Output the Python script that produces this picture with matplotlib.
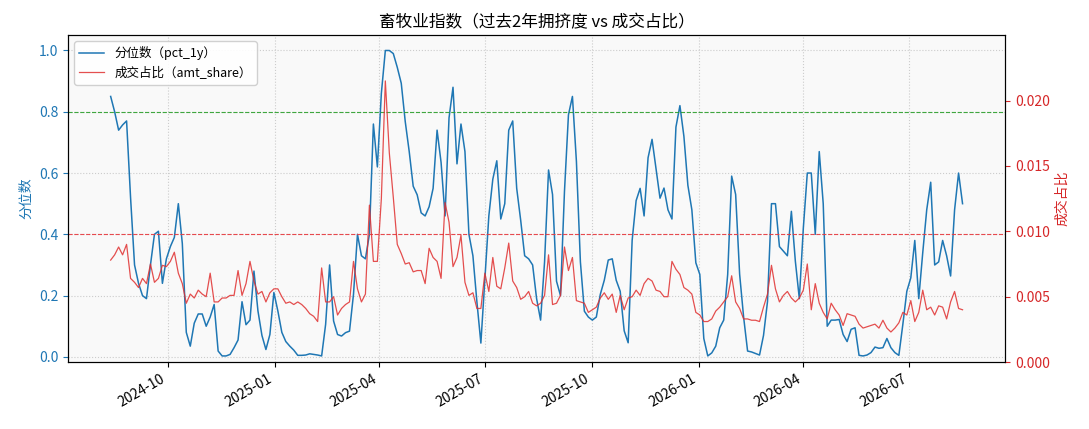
import matplotlib
matplotlib.use("Agg")
import matplotlib.pyplot as plt
import matplotlib.dates as mdates
import pandas as pd

plt.rcParams['font.family'] = ['Noto Sans CJK SC', 'DejaVu Sans']
plt.rcParams['axes.unicode_minus'] = False

# 分位数 pct_1y (roughly every 2-3 trading days)
pct_1y = [
    0.85, 0.80, 0.74, 0.757, 0.77, 0.52, 0.30, 0.24, 0.20, 0.19, 0.30, 0.40, 0.41,
    0.24, 0.32, 0.36, 0.39, 0.50, 0.37, 0.08, 0.035, 0.11, 0.14, 0.14, 0.10, 0.13,
    0.171, 0.019, 0.003, 0.003, 0.008, 0.03, 0.055, 0.18, 0.105, 0.12, 0.28, 0.15, 0.07,
    0.024, 0.073, 0.21, 0.15, 0.08, 0.05, 0.035, 0.022, 0.005, 0.005, 0.006, 0.01, 0.008,
    0.006, 0.003,
    0.106, 0.30, 0.117, 0.073, 0.068, 0.079, 0.084, 0.204, 0.40, 0.33, 0.32, 0.40, 0.76,
    0.62, 0.86, 1.0, 1.0, 0.99, 0.945, 0.893, 0.768, 0.67, 0.557, 0.529, 0.47, 0.46,
    0.49, 0.55,
    0.74, 0.635, 0.46, 0.78, 0.88, 0.63, 0.76, 0.67, 0.40, 0.33, 0.18, 0.045, 0.25,
    0.46, 0.58, 0.64, 0.45, 0.50, 0.74, 0.77, 0.55, 0.446, 0.33, 0.32, 0.30, 0.19,
    0.12, 0.31,
    0.61, 0.53, 0.247, 0.20, 0.54, 0.79, 0.85, 0.638, 0.31, 0.149, 0.13, 0.12, 0.13,
    0.204, 0.25, 0.316, 0.32, 0.25, 0.214, 0.085, 0.046, 0.38, 0.51, 0.55, 0.46, 0.65,
    0.71, 0.615,
    0.518, 0.551, 0.48, 0.45, 0.75, 0.82, 0.72, 0.56, 0.48, 0.307, 0.269, 0.06, 0.003,
    0.013, 0.035, 0.095, 0.12, 0.269, 0.59, 0.53, 0.27, 0.13, 0.019, 0.016, 0.011,
    0.006, 0.07, 0.18,
    0.50, 0.50, 0.36, 0.345, 0.33, 0.475, 0.312, 0.19, 0.42, 0.60, 0.60, 0.40, 0.67,
    0.50, 0.10, 0.12, 0.12, 0.122, 0.073, 0.05, 0.09, 0.095, 0.005, 0.003, 0.006,
    0.014, 0.032, 0.028,
    0.03, 0.06, 0.03, 0.014, 0.005, 0.106, 0.214, 0.258, 0.38, 0.19, 0.34, 0.48, 0.57,
    0.30, 0.31, 0.38, 0.33, 0.264, 0.48, 0.60, 0.50,
]

# 成交占比 amt_share
amt_share = [
    0.0078, 0.0082, 0.0088, 0.0082, 0.0090, 0.0064, 0.0061, 0.0057, 0.0064, 0.0060,
    0.0075, 0.0061, 0.0064, 0.0074, 0.0073, 0.0077, 0.0084, 0.0068, 0.0060, 0.0045,
    0.0052, 0.0049, 0.0055, 0.0052, 0.0050, 0.0068,
    0.0046, 0.0046, 0.0049, 0.0049, 0.0051, 0.0051, 0.0070, 0.0051, 0.0060, 0.0077,
    0.0062, 0.0052, 0.0054, 0.0046, 0.0053, 0.0056, 0.0056, 0.0050, 0.0045, 0.0046,
    0.0044, 0.0046, 0.0044, 0.0041, 0.0037, 0.0035, 0.0031, 0.0072,
    0.0046, 0.0046, 0.0050, 0.0036, 0.0041, 0.0044, 0.0046, 0.0077, 0.0056, 0.0046,
    0.0052, 0.0120, 0.0077, 0.0077, 0.0125, 0.0215, 0.0160, 0.0126, 0.0090, 0.0083,
    0.0075, 0.0076, 0.0069, 0.0070, 0.0070, 0.0060, 0.0087, 0.0080,
    0.0077, 0.0064, 0.0122, 0.0107, 0.0073, 0.0080, 0.0097, 0.0061, 0.0051, 0.0053,
    0.0041, 0.0041, 0.0068, 0.0054, 0.0080, 0.0058, 0.0056, 0.0072, 0.0091, 0.0062,
    0.0057, 0.0048, 0.0050, 0.0054, 0.0045, 0.0043, 0.0045, 0.0051,
    0.0082, 0.0044, 0.0045, 0.0051, 0.0088, 0.0070, 0.0080, 0.0047, 0.0046, 0.0045,
    0.0038, 0.0040, 0.0042, 0.0049, 0.0053, 0.0048, 0.0052, 0.0038, 0.0051, 0.0040,
    0.0049, 0.0050, 0.0055, 0.0051, 0.0060, 0.0064, 0.0062, 0.0055,
    0.0054, 0.0050, 0.0050, 0.0077, 0.0071, 0.0067, 0.0057, 0.0055, 0.0052, 0.0038,
    0.0036, 0.0031, 0.0031, 0.0033, 0.0039, 0.0042, 0.0046, 0.0050, 0.0066, 0.0046,
    0.0041, 0.0033, 0.0033, 0.0032, 0.0032, 0.0031, 0.0042, 0.0052,
    0.0074, 0.0056, 0.0046, 0.0051, 0.0054, 0.0049, 0.0046, 0.0049, 0.0055, 0.0075,
    0.0040, 0.0060, 0.0045, 0.0038, 0.0033, 0.0045, 0.0040, 0.0036, 0.0028, 0.0037,
    0.0036, 0.0035, 0.0029, 0.0026, 0.0027, 0.0028, 0.0029, 0.0026,
    0.0032, 0.0026, 0.0023, 0.0026, 0.0030, 0.0038, 0.0036, 0.0047, 0.0031, 0.0038,
    0.0055, 0.0040, 0.0042, 0.0036, 0.0043, 0.0042, 0.0033, 0.0046, 0.0054, 0.0041,
    0.0040,
]

start_date = "2024-08-13"
end_date = "2026-08-16"
dates = pd.date_range(start_date, end_date, periods=len(pct_1y))

hi_line = 0.8
lo_line = 0.4

fig, ax = plt.subplots(figsize=(10.89, 4.29), dpi=100)
fig.subplots_adjust(left=0.0625, right=0.923, top=0.918, bottom=0.156)
ax.set_facecolor('#f9f9f9')

l1, = ax.plot(dates, pct_1y, color='#1f77b4', lw=1.1, label='分位数（pct_1y）')
ax.axhline(hi_line, color='#2ca02c', ls='--', lw=0.8, alpha=0.9)
ax.axhline(lo_line, color='#e8383d', ls='--', lw=0.8, alpha=0.9)
ax.set_ylim(-0.017, 1.05)
ax.set_ylabel('分位数', color='#1f77b4', fontsize=10)
ax.tick_params(axis='y', colors='#1f77b4', labelsize=10)
ax.tick_params(axis='x', labelsize=10)
ax.grid(True, ls=':', color='#cccccc', lw=0.8)

ax2 = ax.twinx()
l2, = ax2.plot(dates, amt_share, color='#e03030', lw=0.9, alpha=0.85,
               label='成交占比（amt_share）')
ax2.set_ylim(0, 0.025)
ax2.set_yticks([0.0, 0.005, 0.010, 0.015, 0.020])
ax2.yaxis.set_major_formatter(plt.FormatStrFormatter('%.3f'))
ax2.set_ylabel('成交占比', color='#d62728', fontsize=10)
ax2.tick_params(axis='y', colors='#d62728', labelsize=10)

ax.xaxis.set_major_locator(mdates.MonthLocator(bymonth=[1, 4, 7, 10]))
ax.xaxis.set_major_formatter(mdates.DateFormatter('%Y-%m'))
for lbl in ax.get_xticklabels():
    lbl.set_rotation(30)
    lbl.set_ha('right')

ax.legend([l1, l2], [l1.get_label(), l2.get_label()], loc='upper left', fontsize=9,
          framealpha=0.9)
ax.set_title('畜牧业指数（过去2年拥挤度 vs 成交占比）', fontsize=12)

plt.savefig('out.png', dpi=100)
